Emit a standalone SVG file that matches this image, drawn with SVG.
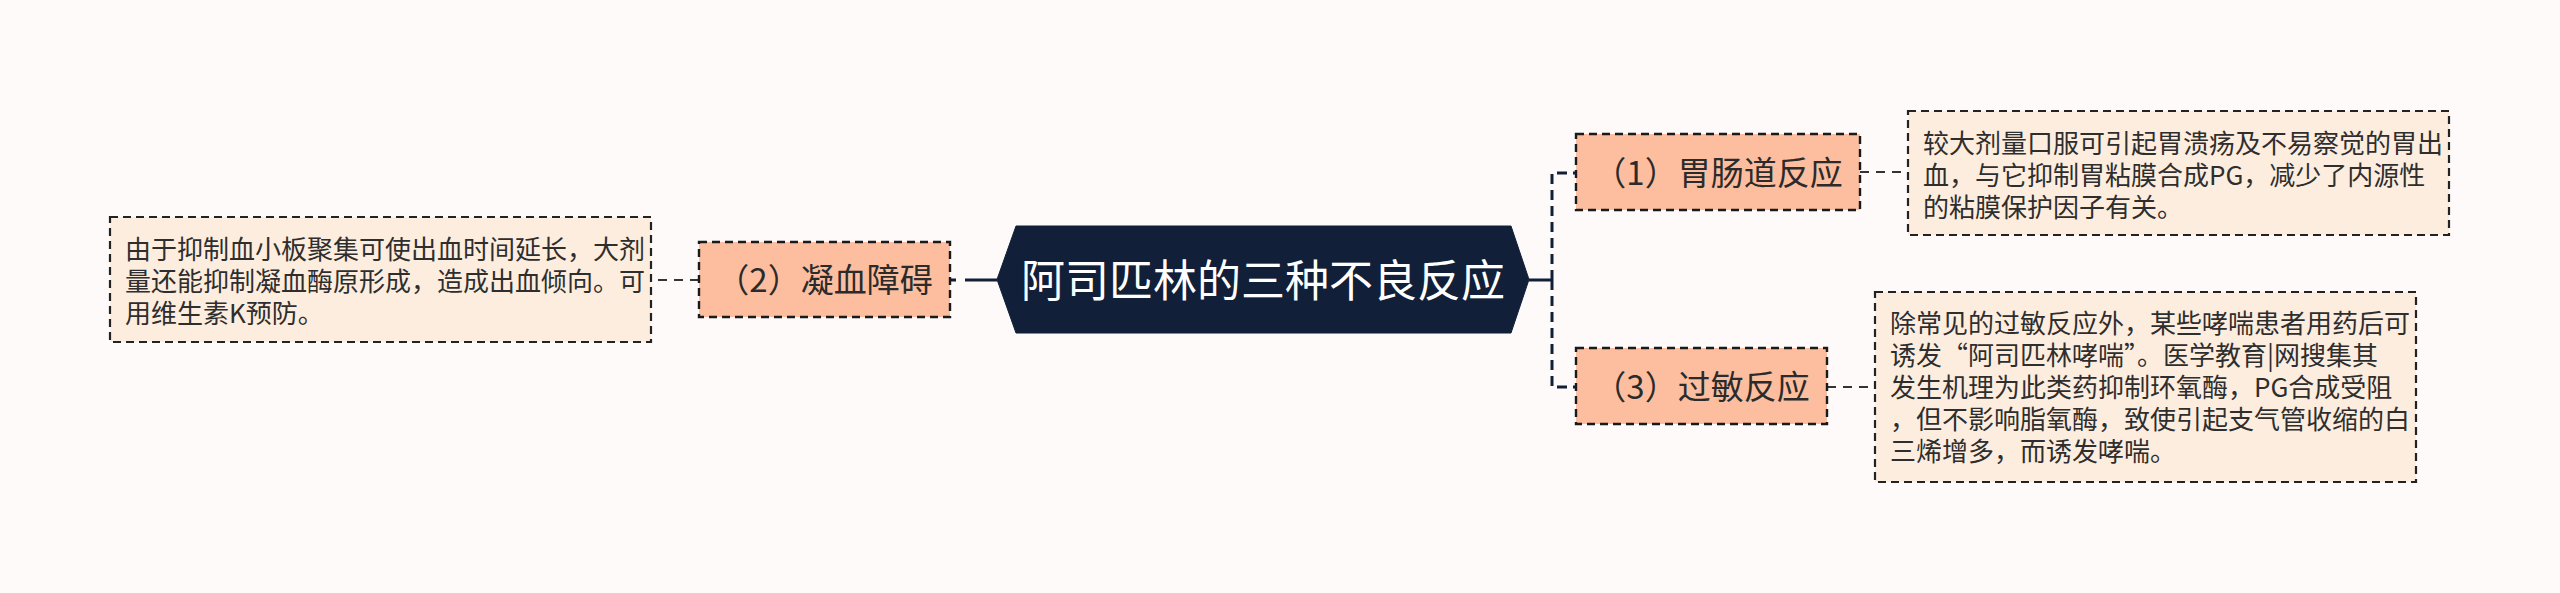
<svg xmlns="http://www.w3.org/2000/svg" width="2560" height="593" viewBox="0 0 2560 593">
<style>
.bg{fill:#fdfaf9}
.root{fill:#111f38;stroke:#111f38;stroke-width:1}
.roottxt{font-family:"Noto Sans CJK SC","Noto Sans",sans-serif;font-size:44px;fill:#ffffff}
.node{fill:#fdbe9f;stroke:#1a1a1a;stroke-width:2.4;stroke-dasharray:8 5}
.ntxt{font-family:"Noto Sans CJK SC","Noto Sans",sans-serif;font-size:33px;fill:#2b2b2b;text-anchor:middle}
.det{fill:#fdeddf;stroke:#222222;stroke-width:2.2;stroke-dasharray:8 5}
.dtxt{font-family:"Noto Sans CJK SC","Noto Sans",sans-serif;font-size:26px;fill:#2e2e2e}
.solid{stroke:#111f38;stroke-width:3;fill:none}
.dash{stroke:#111f38;stroke-width:3;fill:none;stroke-dasharray:10 6}
.dash2{stroke:#333333;stroke-width:2;fill:none;stroke-dasharray:9 7}
</style>
<rect class="bg" x="0" y="0" width="2560" height="593"/>
<g id="connectors">
<line class="solid" x1="965" y1="280" x2="997" y2="280"/>
<line class="solid" x1="951" y1="280" x2="956" y2="280"/>
<line class="solid" x1="1529" y1="280" x2="1552" y2="280"/>
<path class="dash" d="M1552,280 V173 H1576"/>
<path class="dash" d="M1552,280 V387 H1576"/>
<line class="dash2" x1="1860" y1="172" x2="1908" y2="172"/>
<line class="dash2" x1="1827" y1="387" x2="1876" y2="387"/>
<line class="dash2" x1="699" y1="280" x2="651" y2="280"/>
</g>
<g id="root">
<polygon class="root" points="997,279.5 1016,226 1511,226 1529,279.5 1511,333 1016,333"/>
<text class="roottxt" x="1263" y="296.5" text-anchor="middle">阿司匹林的三种不良反应</text>
</g>
<g id="node1">
<rect class="node" x="1576" y="134" width="284" height="76"/>
<text class="ntxt" x="1718" y="184.5">（1）胃肠道反应</text>
</g>
<g id="node2">
<rect class="node" x="699" y="242" width="251" height="75"/>
<text class="ntxt" x="824.5" y="292">（2）凝血障碍</text>
</g>
<g id="node3">
<rect class="node" x="1576" y="348" width="251" height="76"/>
<text class="ntxt" x="1701.5" y="398.5">（3）过敏反应</text>
</g>
<g id="detail1">
<rect class="det" x="1908" y="111" width="541" height="124"/>
<text class="dtxt" x="1923" y="152.8">较大剂量口服可引起胃溃疡及不易察觉的胃出</text>
<text class="dtxt" x="1923" y="184.8">血，与它抑制胃粘膜合成PG，减少了内源性</text>
<text class="dtxt" x="1923" y="216.8">的粘膜保护因子有关。</text>
</g>
<g id="detail2">
<rect class="det" x="110" y="217" width="541" height="125"/>
<text class="dtxt" x="125" y="258.6">由于抑制血小板聚集可使出血时间延长，大剂</text>
<text class="dtxt" x="125" y="290.6">量还能抑制凝血酶原形成，造成出血倾向。可</text>
<text class="dtxt" x="125" y="322.6">用维生素K预防。</text>
</g>
<g id="detail3">
<rect class="det" x="1875" y="292" width="541" height="190"/>
<text class="dtxt" x="1890" y="332.8">除常见的过敏反应外，某些哮喘患者用药后可</text>
<text class="dtxt" x="1890" y="364.8">诱发“阿司匹林哮喘”。医学教育|网搜集其</text>
<text class="dtxt" x="1890" y="396.8">发生机理为此类药抑制环氧酶，PG合成受阻</text>
<text class="dtxt" x="1890" y="428.8">，但不影响脂氧酶，致使引起支气管收缩的白</text>
<text class="dtxt" x="1890" y="460.8">三烯增多，而诱发哮喘。</text>
</g>
</svg>
